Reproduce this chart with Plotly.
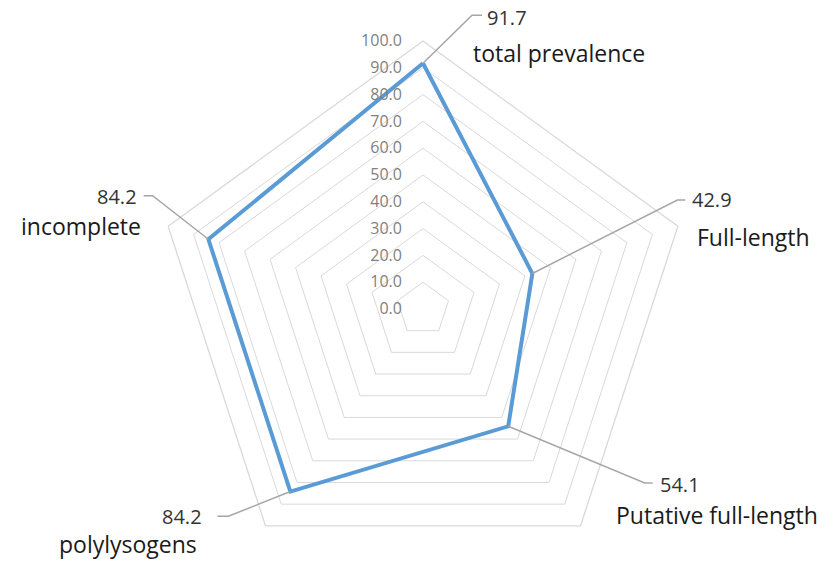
import math
import plotly.graph_objects as go

# Prophage categories and their prevalence (%)
categories = ["total prevalence", "Full-length", "Putative full-length", "polylysogens", "incomplete"]
values = [91.7, 42.9, 54.1, 84.2, 84.2]
radial_tickvals = [0, 10, 20, 30, 40, 50, 60, 70, 80, 90, 100]
radial_ticktext = [f"{v:.1f}" for v in radial_tickvals]

W, H = 826, 577
CX, CY, RPX = 423, 309, 268          # centre and outer radius of the radar, in pixels
RMAX = radial_tickvals[-1]

BLUE = "#5B9BD5"
GRID = "#d9d9d9"
LEADER = "#a6a6a6"


def polar_px(r, i):
    ang = math.radians(90 - 72 * i)
    return CX + r / RMAX * RPX * math.cos(ang), CY - r / RMAX * RPX * math.sin(ang)


def paper(px, py):
    return px / W, 1 - py / H


fig = go.Figure()
fig.add_trace(go.Scatterpolar(
    r=values + values[:1],
    theta=categories + categories[:1],
    mode="lines",
    line=dict(color=BLUE, width=4),
    hoverinfo="skip",
    showlegend=False,
))

# leader lines: elbow and end offsets (px) from each data point
leaders = [((49, -48), (59, -48)),
           ((145, -73.5), (153, -73.5)),
           ((136.5, 56.6), (144.5, 56.6)),
           ((-62, 24.7), (-73, 24.7)),
           ((-55.8, -43.5), (-64.8, -43.5))]
value_pos = [(62, -46, "left"), (158, -74, "left"), (150, 58, "left"),
             (-86, 25, "right"), (-69, -42.5, "right")]
cat_pos = [(48, 12, "left"), (17, 11, "left"), (33, -10.5, "left"),
           (-66, 18.5, "right"), (-25, 0, "right")]

shapes, annotations = [], []
for i, (cat, v) in enumerate(zip(categories, values)):
    px, py = polar_px(v, i)
    (ex, ey), (fx, fy) = leaders[i]
    p0 = paper(px, py)
    p1 = paper(px + ex, py + ey)
    p2 = paper(px + fx, py + fy)
    shapes.append(dict(
        type="path", xref="paper", yref="paper",
        path=f"M {p0[0]},{p0[1]} L {p1[0]},{p1[1]} L {p2[0]},{p2[1]}",
        line=dict(color=LEADER, width=1.5),
    ))
    dx, dy, anc = value_pos[i]
    lx, ly = paper(px + dx, py + dy)
    annotations.append(dict(
        x=lx, y=ly, xref="paper", yref="paper", xanchor=anc, yanchor="middle",
        text=f"{v:.1f}", showarrow=False,
        font=dict(family="Open Sans", size=20, color="#333333"),
    ))
    vx, vy = polar_px(RMAX, i)
    dx, dy, anc = cat_pos[i]
    cx, cy = paper(vx + dx, vy + dy)
    annotations.append(dict(
        x=cx, y=cy, xref="paper", yref="paper", xanchor=anc, yanchor="middle",
        text=cat, showarrow=False,
        font=dict(family="Open Sans", size=23, color="#1a1a1a"),
    ))

fig.update_layout(
    width=W, height=H,
    margin=dict(l=0, r=0, t=0, b=0, pad=0),
    paper_bgcolor="white",
    showlegend=False,
    shapes=shapes,
    annotations=annotations,
    polar=dict(
        domain=dict(x=[(CX - RPX) / W, (CX + RPX) / W], y=[0, 2 * RPX / H]),
        bgcolor="white",
        gridshape="linear",
        radialaxis=dict(
            range=[0, RMAX],
            tickvals=radial_tickvals,
            ticktext=radial_ticktext,
            angle=90,
            side="counterclockwise",
            tickangle=90,
            showline=False,
            showgrid=True,
            gridcolor=GRID,
            gridwidth=1.3,
            ticks="outside",
            ticklen=15,
            tickcolor="rgba(0,0,0,0)",
            tickfont=dict(family="Open Sans", size=16, color="#7f7f7f"),
        ),
        angularaxis=dict(
            type="category",
            rotation=90,
            direction="clockwise",
            showgrid=False,
            showticklabels=False,
            ticks="",
            showline=True,
            linecolor=GRID,
            linewidth=1.3,
        ),
    ),
)

fig.write_html("out.html")
